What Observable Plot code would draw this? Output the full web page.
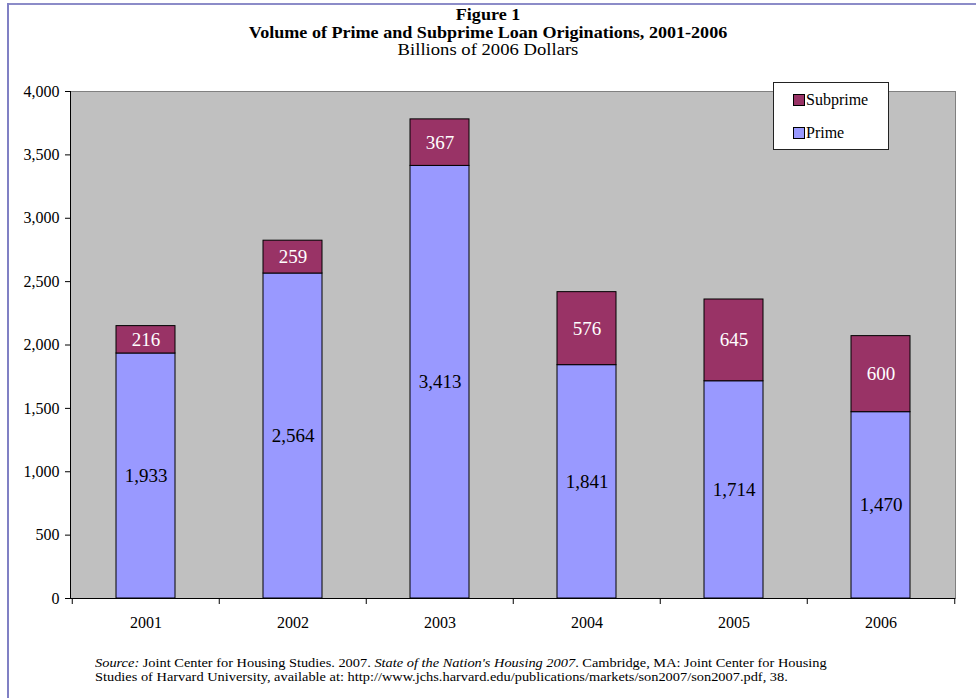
<!DOCTYPE html>
<html>
<head>
<meta charset="utf-8">
<script src="https://cdn.jsdelivr.net/npm/d3@7"></script>
<script src="https://cdn.jsdelivr.net/npm/@observablehq/plot@0.6"></script>
<style>
  html, body { margin: 0; padding: 0; background: #fff; }
  #wrap { position: relative; width: 976px; height: 698px; overflow: hidden; font-family: "Liberation Serif", "Times New Roman", serif; color: #000; }
  #wrap svg { position: absolute; left: 0; top: 0; }
  #chart svg, #chart svg text { font-family: "Liberation Serif", "Times New Roman", serif !important; }
  .abs { position: absolute; }
  .title { left: 0; width: 976px; text-align: center; white-space: nowrap; transform: scaleX(1.13); transform-origin: 488px 0; }
  #legend { left: 773px; top: 82px; width: 114px; height: 66px; background: #fff; border: 1px solid #222; }
  .sw { position: absolute; width: 10px; height: 10px; border: 1px solid #000; }
  .lt { position: absolute; font-size: 16px; line-height: 16px; }
  #caption { left: 95px; top: 656px; font-size: 12.5px; line-height: 14px; white-space: nowrap; transform: scaleX(1.15); transform-origin: 0 0; }
</style>
</head>
<body>
<div id="wrap">
  <div class="abs" style="left:8px;top:3px;width:968px;height:2px;background:#8c8cc8;"></div>
  <div class="abs" style="left:7px;top:3px;width:2px;height:695px;background:#8080c4;"></div>
  <div id="chart"></div>
  <div class="abs title" style="top:6px;font-size:16px;font-weight:bold;line-height:18px;">Figure 1</div>
  <div class="abs title" style="top:24px;font-size:16px;font-weight:bold;line-height:18px;">Volume of Prime and Subprime Loan Originations, 2001-2006</div>
  <div class="abs title" style="top:41px;font-size:16.5px;line-height:18px;">Billions of 2006 Dollars</div>
  <div id="legend" class="abs"></div>
  <div id="caption" class="abs"><i>Source:</i> Joint Center for Housing Studies. 2007. <i>State of the Nation's Housing 2007</i>. Cambridge, MA: Joint Center for Housing<br>Studies of Harvard University, available at: http://www.jchs.harvard.edu/publications/markets/son2007/son2007.pdf, 38.</div>
</div>
<script>
const years = ["2001", "2002", "2003", "2004", "2005", "2006"];
const prime = [1933, 2564, 3413, 1841, 1714, 1470];
const subprime = [216, 259, 367, 576, 645, 600];
const seriesNames = ["Subprime", "Prime"];
const seriesColors = ["#993366", "#9999ff"];
const yTicks = [0, 500, 1000, 1500, 2000, 2500, 3000, 3500, 4000];

const data = years.flatMap((yr, i) => [
  {year: yr, type: "Prime", value: prime[i]},
  {year: yr, type: "Subprime", value: subprime[i]}
]);
const fmt = d3.format(",");
const stackOrder = ["Prime", "Subprime"];

const W = 976, H = 698, ML = 70, MR = 21, MT = 91, MB = 100;
const half = (W - ML - MR) / years.length / 2;

const chart = Plot.plot({
  width: W, height: H,
  marginLeft: ML, marginRight: MR, marginTop: MT, marginBottom: MB,
  style: {fontFamily: "'Liberation Serif', 'Times New Roman', serif", background: "transparent", color: "#000", fontSize: "16px"},
  x: {domain: years, paddingInner: 0.6, paddingOuter: 0.3},
  y: {domain: [0, 4000]},
  color: {domain: seriesNames, range: seriesColors},
  marks: [
    Plot.frame({fill: "#c0c0c0", stroke: "#808080"}),
    Plot.barY(data, {x: "year", y: "value", fill: "type", order: stackOrder, stroke: "#000", strokeWidth: 1}),
    Plot.text(data, Plot.stackY({x: "year", y: "value", z: "type", order: stackOrder,
      text: d => d.type === "Prime" ? fmt(d.value) : "", fill: "#000", fontSize: 19})),
    Plot.text(data, Plot.stackY({x: "year", y: "value", z: "type", order: stackOrder,
      text: d => d.type === "Subprime" ? fmt(d.value) : "", fill: "#fff", fontSize: 19})),
    Plot.ruleY([0], {stroke: "#000"}),
    Plot.frame({anchor: "left", stroke: "#000"}),
    Plot.axisY({ticks: yTicks, tickFormat: fmt, tickSize: 5, tickPadding: 6, label: null, fontSize: 16}),
    Plot.axisX({tickSize: 0, tickPadding: 18, label: null, fontSize: 16}),
    Plot.axisX({tickSize: 6, tickFormat: () => "", dx: -half, label: null}),
    Plot.axisX({ticks: [years[years.length - 1]], tickSize: 6, tickFormat: () => "", dx: half, label: null})
  ]
});
document.getElementById("chart").appendChild(chart);

// legend
const legend = document.getElementById("legend");
seriesNames.forEach((name, i) => {
  const sw = document.createElement("div");
  sw.className = "sw";
  sw.style.left = "19px";
  sw.style.top = (11 + i * 33) + "px";
  sw.style.background = seriesColors[i];
  legend.appendChild(sw);
  const t = document.createElement("div");
  t.className = "lt";
  t.style.left = "32px";
  t.style.top = (9 + i * 33) + "px";
  t.textContent = name;
  legend.appendChild(t);
});
</script>
</body>
</html>
